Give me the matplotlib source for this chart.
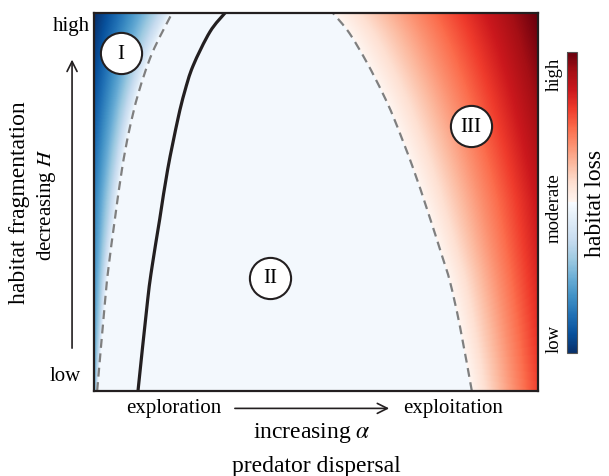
import numpy as np
import matplotlib
matplotlib.use("Agg")
import matplotlib.pyplot as plt
from matplotlib.colors import ListedColormap
from matplotlib.path import Path
from matplotlib.patches import PathPatch

plt.rcParams['font.family'] = ['Liberation Serif', 'DejaVu Serif']
plt.rcParams['mathtext.fontset'] = 'stix'

# boundary curves (x = dispersal, y = fragmentation, both 0..1)
left_dash_y = [0.0, 0.24, 0.33, 0.455, 0.587, 0.688, 0.788, 0.894, 1.0]
left_dash_x = [0.007, 0.025, 0.033, 0.047, 0.063, 0.079, 0.100, 0.131, 0.176]

solid_y = [0.0, 0.243, 0.331, 0.455, 0.587, 0.720, 0.791, 0.860, 0.950, 1.0]
solid_x = [0.099, 0.121, 0.131, 0.148, 0.166, 0.189, 0.204, 0.223, 0.261, 0.295]

right_dash_y = [0.0, 0.172, 0.288, 0.357, 0.474, 0.595, 0.720, 0.788, 0.868, 0.947, 1.0]
right_dash_x = [0.851, 0.824, 0.802, 0.784, 0.752, 0.717, 0.676, 0.650, 0.615, 0.575, 0.538]

# colour depth at the panel edges (bottom, middle, top)
depth_y = [0.0, 0.5, 1.0]
blue_depth = [0.25, 0.34, 0.5]
red_depth = [0.30, 0.38, 0.5]

regions = ['I', 'II', 'III']
region_x = [0.061, 0.396, 0.849]
region_y = [0.894, 0.299, 0.701]

cbar_ticks = [0.05, 0.485, 0.93]
cbar_labels = ['low', 'moderate', 'high']


def smooth_path(xs, ys):
    # Catmull-Rom through the read points, drawn as cubic Bezier segments
    p = np.column_stack([xs, ys])
    verts = [p[0]]
    codes = [Path.MOVETO]
    for k in range(len(p) - 1):
        p0 = p[k - 1] if k > 0 else p[k]
        p3 = p[k + 2] if k + 2 < len(p) else p[k + 1]
        c1 = p[k] + (p[k + 1] - p0) / 6
        c2 = p[k + 1] - (p3 - p[k]) / 6
        verts += [c1, c2, p[k + 1]]
        codes += [Path.CURVE4] * 3
    return Path(verts, codes)


def flat(path):
    v = path.to_polygons(closed_only=False)[0]
    order = np.argsort(v[:, 1])
    return v[order, 1], v[order, 0]


left_path = smooth_path(left_dash_x, left_dash_y)
right_path = smooth_path(right_dash_x, right_dash_y)
solid_path = smooth_path(solid_x, solid_y)
ly, lx = flat(left_path)
ry, rx = flat(right_path)

# blue -> white -> red colour map
cols = np.vstack([plt.cm.Blues_r(np.linspace(0, 1, 128)),
                  plt.cm.Reds(np.linspace(0, 1, 128))])
cmap = ListedColormap(cols)

# habitat loss field built from the curves above
n = 500
gx = np.linspace(0, 1, n)
gy = np.linspace(0, 1, n)
field = np.full((n, n), 0.49)
for i, yy in enumerate(gy):
    L = np.interp(yy, ly, lx)
    R = np.interp(yy, ry, rx)
    bd = np.interp(yy, depth_y, blue_depth)
    rd = np.interp(yy, depth_y, red_depth)
    m = gx < L
    field[i, m] = 0.499 - bd * ((L - gx[m]) / L) ** 0.75
    m = gx > R
    field[i, m] = 0.501 + rd * (gx[m] - R) / (1 - R)

fig = plt.figure(figsize=(6.09, 4.77), dpi=100)
ax = fig.add_axes([0.1544, 0.1782, 0.729, 0.7925])
ax.imshow(field, cmap=cmap, vmin=0, vmax=1, origin='lower',
          extent=[0, 1, 0, 1], aspect='auto', interpolation='bilinear')
for pth in [left_path, right_path]:
    ax.add_patch(PathPatch(pth, fill=False, edgecolor='#7f7f7f', lw=1.6,
                           ls=(0, (4, 2.5))))
ax.add_patch(PathPatch(solid_path, fill=False, edgecolor='#231f20', lw=2.3))
ax.set_xlim(0, 1)
ax.set_ylim(0, 1)
ax.set_xticks([])
ax.set_yticks([])
for s in ax.spines.values():
    s.set_linewidth(1.6)
    s.set_color('#231f20')

ax.scatter(region_x, region_y, s=880, facecolor='white', edgecolor='#231f20',
           linewidth=1.5, zorder=5)
for lab, x, y in zip(regions, region_x, region_y):
    ax.text(x, y, lab, ha='center', va='center', fontsize=15, zorder=6)

# axis annotations
ax.text(-0.009, 0.966, 'high', ha='right', va='center', fontsize=15, transform=ax.transAxes)
ax.text(-0.03, 0.04, 'low', ha='right', va='center', fontsize=15, transform=ax.transAxes)
ax.annotate('', xy=(-0.0495, 0.884), xytext=(-0.0495, 0.106), xycoords='axes fraction',
            arrowprops=dict(arrowstyle='->', lw=1.2, color='#231f20', mutation_scale=18),
            annotation_clip=False)
ax.text(-0.167, 0.5, 'habitat fragmentation', rotation=90, ha='center', va='center',
        fontsize=17, transform=ax.transAxes)
ax.text(-0.106, 0.495, r'decreasing $H$', rotation=90, ha='center', va='center',
        fontsize=15, transform=ax.transAxes)

ax.text(0.18, -0.044, 'exploration', ha='center', va='center', fontsize=15, transform=ax.transAxes)
ax.text(0.809, -0.044, 'exploitation', ha='center', va='center', fontsize=15, transform=ax.transAxes)
ax.annotate('', xy=(0.671, -0.046), xytext=(0.311, -0.046), xycoords='axes fraction',
            arrowprops=dict(arrowstyle='->', lw=1.2, color='#231f20', mutation_scale=18),
            annotation_clip=False)
ax.text(0.491, -0.108, r'increasing $\alpha$', ha='center', va='center', fontsize=17,
        transform=ax.transAxes)
ax.text(0.5, -0.196, 'predator dispersal', ha='center', va='center', fontsize=17,
        transform=ax.transAxes)

# colour bar
cax = fig.add_axes([0.931, 0.2579, 0.0164, 0.631])
sm = plt.cm.ScalarMappable(cmap=cmap, norm=plt.Normalize(0, 1))
cb = fig.colorbar(sm, cax=cax)
cb.outline.set_edgecolor('#555555')
cb.outline.set_linewidth(0.8)
cax.yaxis.set_ticks_position('left')
cax.set_yticks(cbar_ticks)
cax.set_yticklabels(cbar_labels, rotation=90, va='center', fontsize=13.5)
cax.tick_params(length=0, pad=3)
cax.yaxis.set_label_position('right')
cax.set_ylabel('habitat loss', rotation=90, fontsize=17, labelpad=6)

fig.savefig('out.png', dpi=100)
